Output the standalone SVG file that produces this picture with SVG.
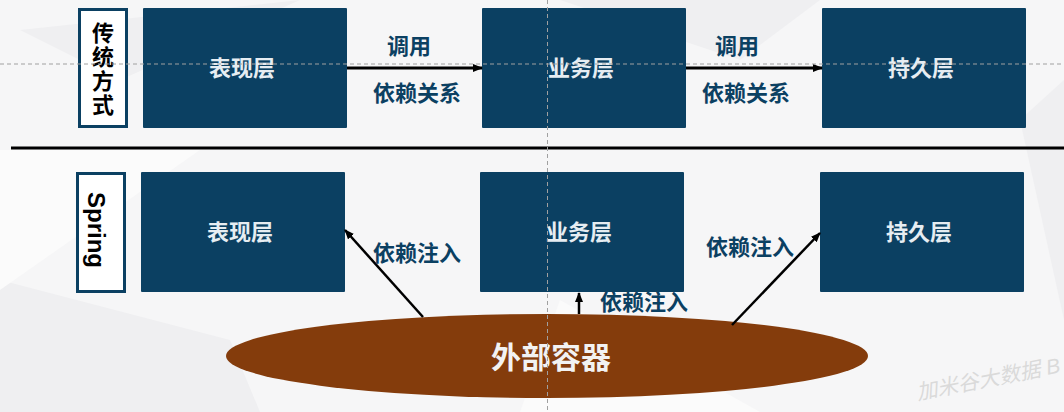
<svg xmlns="http://www.w3.org/2000/svg" width="1064" height="412" viewBox="0 0 1064 412">
<style>
.box{fill:#0b4062}
.lbl{fill:#fff;stroke:#0b4062;stroke-width:3}
.bt{font-family:"Liberation Sans","Noto Sans CJK SC",sans-serif;font-weight:bold;font-size:22px;fill:#e6edf2;text-anchor:middle;dominant-baseline:central}
.et{font-family:"Liberation Sans","Noto Sans CJK SC",sans-serif;font-weight:bold;font-size:22px;fill:#0b4062;text-anchor:middle;dominant-baseline:central}
.vt{font-family:"Liberation Sans","Noto Sans CJK SC",sans-serif;font-weight:bold;font-size:22px;fill:#000;text-anchor:middle;dominant-baseline:central}
.ar{stroke:#000;stroke-width:3;fill:none}
.ad{stroke:#000;stroke-width:2.5;fill:none}
.guide{stroke:#a0a0a0;stroke-width:1;stroke-dasharray:4 3;fill:none}
</style>
<defs>
<marker id="ah" markerWidth="10" markerHeight="8" refX="9" refY="4" orient="auto" markerUnits="userSpaceOnUse">
<path d="M0,0 L10,4 L0,8 Z" fill="#000"/>
</marker>
</defs>
<rect width="1064" height="412" fill="#f6f6f7"/>
<g fill="#efeff1">
<polygon points="0,280 0,412 260,412 230,340"/>
<polygon points="560,0 820,0 740,60"/>
<polygon points="1020,120 1064,80 1064,320"/>
<polygon points="300,0 120,80 20,30"/>
</g>
<g fill="#fbfbfb">
<polygon points="0,150 200,150 0,290"/>
<polygon points="560,300 760,412 520,412"/>
</g>
<line x1="11" y1="148" x2="1064" y2="148" stroke="#000" stroke-width="3"/>
<g id="label-traditional">
<rect class="lbl" x="79.5" y="9.5" width="47" height="117"/>
<text class="vt" x="103" y="33">传</text>
<text class="vt" x="103" y="57">统</text>
<text class="vt" x="103" y="81">方</text>
<text class="vt" x="103" y="105">式</text>
</g>
<g id="t-presentation"><rect class="box" x="143" y="8" width="204" height="120" rx="1"/><text class="bt" x="242" y="68">表现层</text></g>
<g id="t-business"><rect class="box" x="482" y="8" width="204" height="120" rx="1"/><text class="bt" x="581" y="68">业务层</text></g>
<g id="t-persistence"><rect class="box" x="822" y="8" width="204" height="120" rx="1"/><text class="bt" x="921" y="68">持久层</text></g>
<g id="label-spring">
<rect class="lbl" x="77.5" y="173.5" width="47" height="118"/>
<text class="vt" transform="translate(96,230) rotate(90)" x="0" y="0" style="font-size:24px">Spring</text>
</g>
<g id="s-presentation"><rect class="box" x="141" y="172" width="204" height="120" rx="1"/><text class="bt" x="240" y="232">表现层</text></g>
<g id="s-business"><rect class="box" x="480" y="172" width="204" height="120" rx="1"/><text class="bt" x="579" y="232">业务层</text></g>
<g id="s-persistence"><rect class="box" x="820" y="172" width="204" height="120" rx="1"/><text class="bt" x="919" y="232">持久层</text></g>
<g id="container">
<ellipse cx="547" cy="356" rx="321" ry="42" fill="#843c0c"/>
<text class="bt" x="551" y="357" style="font-size:30px;fill:#f2f2f2">外部容器</text>
</g>
<g id="connectors">
<line class="ar" x1="347" y1="68" x2="482" y2="68" marker-end="url(#ah)"/>
<line class="ar" x1="686" y1="68" x2="822" y2="68" marker-end="url(#ah)"/>
<line class="ad" x1="423" y1="317" x2="345" y2="230" marker-end="url(#ah)"/>
<line class="ad" x1="579" y1="314" x2="579" y2="293" marker-end="url(#ah)"/>
<line class="ad" x1="732" y1="325" x2="820" y2="233" marker-end="url(#ah)"/>
</g>
<g id="edge-labels">
<text class="et" x="409" y="46">调用</text>
<text class="et" x="417" y="93">依赖关系</text>
<text class="et" x="737" y="46">调用</text>
<text class="et" x="746" y="93">依赖关系</text>
<text class="et" x="417" y="253">依赖注入</text>
<text class="et" x="644" y="302">依赖注入</text>
<text class="et" x="750" y="247">依赖注入</text>
</g>
<text transform="translate(918,400) rotate(-11)" font-family="Liberation Sans,'Noto Sans CJK SC',sans-serif" font-style="italic" font-size="21" fill="#dadada">加米谷大数据 B</text>
<line class="guide" x1="0" y1="64" x2="1064" y2="64"/>
<line class="guide" x1="547.5" y1="0" x2="547.5" y2="412"/>
</svg>
